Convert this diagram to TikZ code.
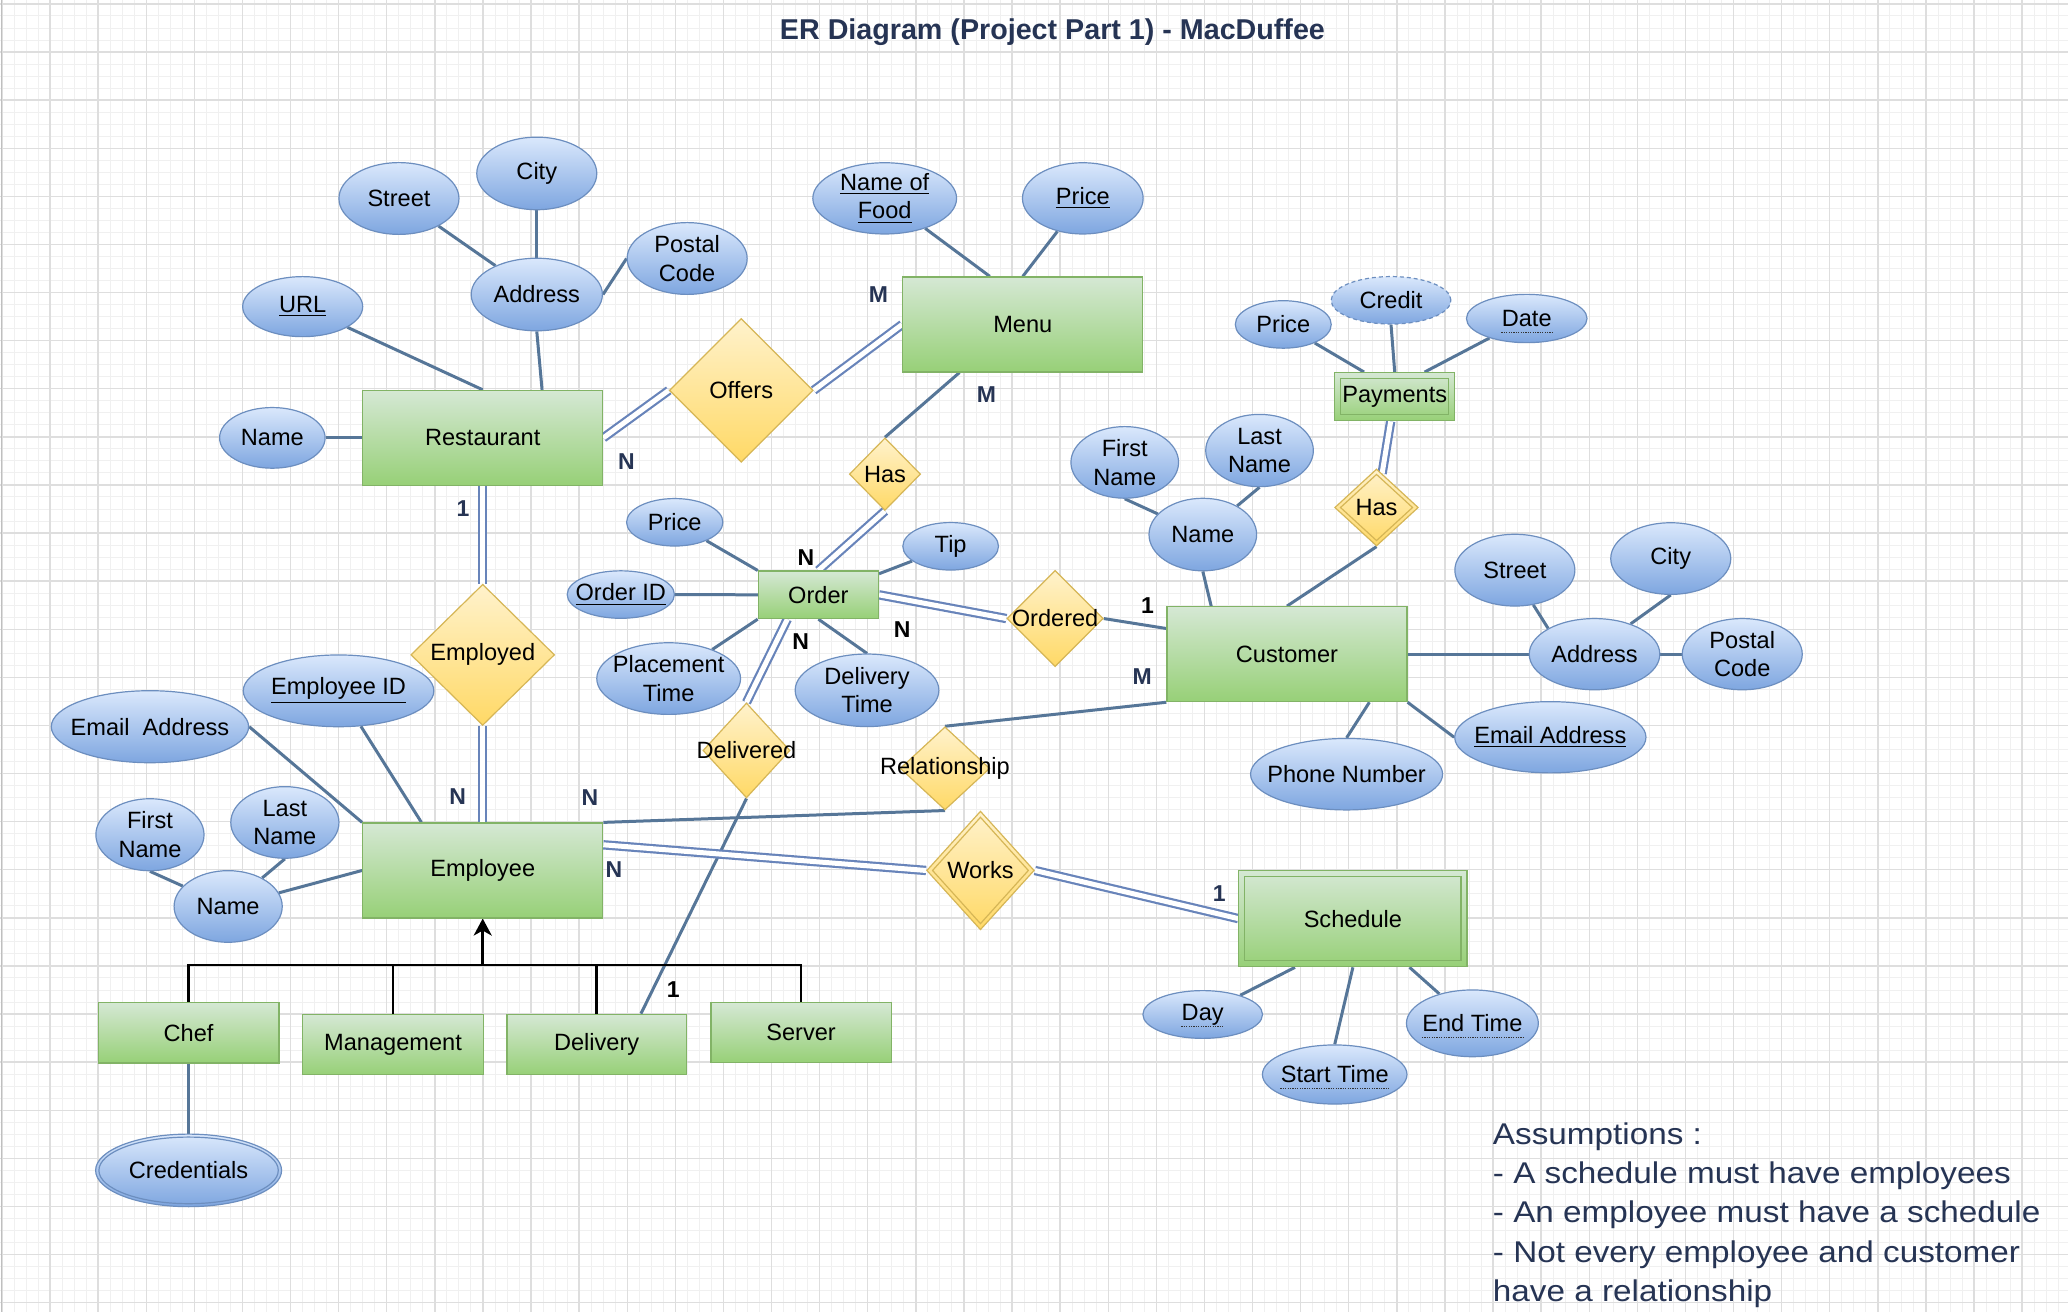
\documentclass[tikz,border=0pt]{standalone}
\usepackage{fontspec}
\setmainfont{Liberation Sans}
\newfontfamily\asfont[FakeStretch=1.11]{Liberation Sans}
\usetikzlibrary{shapes.geometric,arrows.meta,calc}
\definecolor{entTop}{HTML}{D5E8D4}
\definecolor{entBot}{HTML}{97D077}
\definecolor{entBd}{HTML}{82B366}
\definecolor{relTop}{HTML}{FFF2CC}
\definecolor{relBot}{HTML}{FFD966}
\definecolor{relBd}{HTML}{D6B656}
\definecolor{attTop}{HTML}{DAE8FC}
\definecolor{attBot}{HTML}{7EA6E0}
\definecolor{attBd}{HTML}{6C8EBF}
\definecolor{lnCol}{RGB}{86,118,152}
\definecolor{dblCol}{RGB}{104,132,186}
\definecolor{navy}{RGB}{38,52,84}
\pgfdeclarelayer{bg}
\pgfdeclarelayer{lines}
\pgfsetlayers{bg,lines,main}
\begin{document}
\begin{tikzpicture}[x=0.66pt,y=-0.66pt,
  sz/.style 2 args={minimum width=#1*0.66pt, minimum height=#2*0.66pt},
  txt/.style={font=\fontsize{11.8pt}{14.2pt}\selectfont, align=center, inner sep=0pt, text=black},
  ent/.style={rectangle, draw=entBd, line width=0.6pt, top color=entTop, bottom color=entBot, inner sep=0pt},
  entin/.style={rectangle, draw=entBd, line width=0.6pt, inner sep=0pt},
  rel/.style={diamond, draw=relBd, line width=0.6pt, top color=relTop, bottom color=relBot, inner sep=0pt},
  relin/.style={diamond, draw=relBd, line width=0.6pt, inner sep=0pt},
  att/.style={ellipse, draw=attBd, line width=0.6pt, top color=attTop, bottom color=attBot, inner sep=0pt},
  attin/.style={ellipse, draw=attBd, line width=0.6pt, inner sep=0pt},
  ln/.style={draw=lnCol, line width=1.5pt},
  dbl/.style={draw=dblCol, line width=1.1pt, double=white, double distance=2.5pt},
  isal/.style={draw=black, line width=1.4pt},
  card/.style={font=\bfseries\fontsize{11.5pt}{13pt}\selectfont, text=navy, inner sep=0pt},
  cardk/.style={card, text=black},
  dotu/.style={draw=black!80, line width=0.5pt, dash pattern=on 0.6pt off 0.6pt},
  minorgrid/.style={draw=black!6, line width=0.5pt},
  majorgrid/.style={draw=black!13, line width=0.7pt},
  astxt/.style={font=\asfont\fontsize{15pt}{19.7pt}\selectfont, text=navy, inner sep=0pt, anchor=base west}
]
\useasboundingbox (0,0) rectangle (1568,995);
\begin{pgfonlayer}{bg}
  \fill[white] (0,0) rectangle (1568,995);
  \foreach \i in {0,...,172} \draw[minorgrid] ({1.5+9.1175*\i},0) -- ({1.5+9.1175*\i},995);
  \foreach \i in {0,...,109} \draw[minorgrid] (0,{3+9.1175*\i}) -- (1568,{3+9.1175*\i});
  \foreach \i in {0,...,42} \draw[majorgrid] ({1.5+36.47*\i},0) -- ({1.5+36.47*\i},995);
  \foreach \i in {0,...,27} \draw[majorgrid] (0,{3+36.47*\i}) -- (1568,{3+36.47*\i});
  \draw[draw=black!25, line width=0.6pt] (1,0) -- (1,995);
\end{pgfonlayer}

% title
\node[font=\bfseries\fontsize{14.35pt}{17pt}\selectfont, text=navy, anchor=base, inner sep=0pt] (title) at (798,30.3) {ER Diagram (Project Part 1) - MacDuffee};

% entities
\node[ent,sz={182}{72},label={[txt]center:Restaurant}] (rest) at (366,332) {};
\node[ent,sz={182}{72},label={[txt]center:Menu}] (menu) at (775.5,246) {};
\node[ent,sz={91}{36},label={[txt]center:Order}] (order) at (620.5,451) {};
\node[ent,sz={182}{72},label={[txt]center:Customer}] (cust) at (975.8,496) {};
\node[ent,sz={182}{72},label={[txt]center:Employee}] (emp) at (366,660) {};
\node[ent,sz={173}{73}] (sched) at (1025.8,696.5) {};
\node[entin,sz={164}{64},label={[txt]center:Schedule}] (schedin) at (sched) {};
\node[ent,sz={91}{36.5}] (pay) at (1057.5,300.8) {};
\node[entin,sz={82}{27.5},label={[txt]center:Payments}] (payin) at (pay) {};
\node[ent,sz={137}{46},label={[txt]center:Chef}] (chef) at (143,783) {};
\node[ent,sz={137}{46},label={[txt]center:Management}] (mgmt) at (298,792) {};
\node[ent,sz={136}{46},label={[txt]center:Delivery}] (deliv) at (452.4,792) {};
\node[ent,sz={136.5}{45.5},label={[txt]center:Server}] (server) at (607.4,783) {};

% relationships
\node[rel,sz={109}{109},label={[txt]center:Offers}] (offers) at (562,296) {};
\node[rel,sz={54}{55},label={[txt]center:Has}] (hasm) at (671,359.5) {};
\node[rel,sz={109}{107},label={[txt]center:Employed}] (employed) at (366,496.5) {};
\node[rel,sz={66}{72},label={[txt]center:Delivered}] (delivered) at (566,569) {};
\node[rel,sz={73}{73},label={[txt]center:Ordered}] (ordered) at (800,469) {};
\node[rel,sz={63.4}{58.4}] (hasp) at (1043.7,384.8) {};
\node[relin,sz={55}{50.5},label={[txt]center:Has}] (haspin) at (hasp) {};
\node[rel,sz={68}{63},label={[txt]center:Relationship}] (relship) at (716.5,582.6) {};
\node[rel,sz={81.6}{90}] (works) at (743.4,660) {};
\node[relin,sz={73}{81},label={[txt]center:Works}] (worksin) at (works) {};

% attributes: restaurant
\node[att,sz={91}{54.4},label={[txt]center:Street}] (street1) at (302.5,150.5) {};
\node[att,sz={91}{55},label={[txt]center:City}] (city1) at (407,131.5) {};
\node[att,sz={99.5}{55},label={[txt]center:Address}] (addr1) at (407,223.3) {};
\node[att,sz={91}{54.4},label={[txt]center:Postal\\Code}] (postal1) at (521,196) {};
\node[att,sz={91}{45.5},label={[txt]center:\underline{URL}}] (url) at (229.5,232.5) {};
\node[att,sz={80}{46},label={[txt]center:Name}] (rname) at (206.5,332) {};
% menu
\node[att,sz={109}{54},label={[txt]center:\underline{Name of}\\\underline{Food}}] (foodname) at (670.8,150.4) {};
\node[att,sz={91.5}{54},label={[txt]center:\underline{Price}}] (mprice) at (821,150.4) {};
% order
\node[att,sz={73}{36},label={[txt]center:Price}] (oprice) at (511.6,396) {};
\node[att,sz={72.5}{36},label={[txt]center:Tip}] (tip) at (720.8,414.2) {};
\node[att,sz={81.3}{36},label={[txt]center:\underline{Order ID}}] (orderid) at (470.7,450.8) {};
\node[att,sz={109}{54.3},label={[txt]center:Placement\\Time}] (ptime) at (507,514.5) {};
\node[att,sz={109}{55},label={[txt]center:Delivery\\Time}] (dtime) at (657.4,523.4) {};
% customer
\node[att,sz={81.6}{55},label={[txt]center:Name}] (cname) at (912,405.3) {};
\node[att,sz={81.6}{54.3},label={[txt]center:First\\Name}] (cfirst) at (852.8,350.6) {};
\node[att,sz={81.6}{54.8},label={[txt]center:Last\\Name}] (clast) at (955,341.6) {};
\node[att,sz={91}{54.4},label={[txt]center:Street}] (cstreet) at (1148.6,432.3) {};
\node[att,sz={91}{54.3},label={[txt]center:City}] (ccity) at (1266.8,423.5) {};
\node[att,sz={99}{54},label={[txt]center:Address}] (caddr) at (1209,496) {};
\node[att,sz={91}{54},label={[txt]center:Postal\\Code}] (cpostal) at (1321,496) {};
\node[att,sz={145}{54},label={[txt]center:\underline{Email Address}}] (cemail) at (1175.5,559) {};
\node[att,sz={145.6}{54.2},label={[txt]center:Phone Number}] (phone) at (1021,587) {};
% payments
\node[att,sz={72.7}{36},label={[txt]center:Price}] (pprice) at (973,246) {};
\node[att,sz={90.8}{36},dash pattern=on 2pt off 1.5pt,label={[txt]center:Credit}] (credit) at (1054.7,227.7) {};
\node[att,sz={91.4}{36.6},label={[txt,name=datel]center:Date}] (date) at (1157.6,241.5) {};
% employee
\node[att,sz={144.5}{54.4},label={[txt]center:\underline{Employee ID}}] (empid) at (256.7,523.8) {};
\node[att,sz={149.6}{54.6},label={[txt]center:Email~\ Address}] (eemail) at (113.7,551) {};
\node[att,sz={82}{54.3},label={[txt]center:Last\\Name}] (elast) at (216,623.6) {};
\node[att,sz={82}{54.6},label={[txt]center:First\\Name}] (efirst) at (113.7,632.9) {};
\node[att,sz={82}{54.3},label={[txt]center:Name}] (ename) at (173,687.3) {};
\node[att,sz={141}{55}] (cred) at (143,887.4) {};
\node[attin,sz={136}{50.5},label={[txt]center:Credentials}] (credin) at (cred) {};
% schedule
\node[att,sz={90.7}{36.2},label={[txt,name=dayl]center:Day}] (day) at (911.9,769.2) {};
\node[att,sz={109.6}{44.8},label={[txt,name=stimel]center:Start Time}] (stime) at (1012,814.7) {};
\node[att,sz={100}{50.6},label={[txt,name=etimel]center:End Time}] (etime) at (1116.4,775.9) {};

% dotted underlines (partial keys)
\draw[dotu] ([yshift=-3pt]datel.base west) -- ([yshift=-3pt]datel.base east);
\draw[dotu] ([yshift=-3pt]dayl.base west) -- ([yshift=-3pt]dayl.base east);
\draw[dotu] ([yshift=-3pt]stimel.base west) -- ([yshift=-3pt]stimel.base east);
\draw[dotu] ([yshift=-3pt]etimel.base west) -- ([yshift=-3pt]etimel.base east);

% connectors
\begin{pgfonlayer}{lines}
  \draw[ln] (street1) -- (addr1);
  \draw[ln] (city1.south) -- (addr1.north);
  \draw[ln] (addr1.east) -- (postal1.west);
  \draw[ln] (url) -- (rest.north);
  \draw[ln] (addr1.south) -- ($(rest.north)+(45,0)$);
  \draw[ln] (rname.east) -- (rest.west);
  \draw[ln] (foodname) -- ($(menu.north)+(-25,0)$);
  \draw[ln] (mprice) -- (menu.north);
  \draw[ln] ($(menu.south)+(-48,0)$) -- (hasm.north);
  \draw[ln] (oprice) -- (order.north west);
  \draw[ln] (tip) -- ($(order.north east)+(0,2.5)$);
  \draw[ln] (orderid.east) -- (order.west);
  \draw[ln] (ptime) -- (order.south west);
  \draw[ln] (order.south) -- (dtime.north);
  \draw[ln] (delivered.south) -- ($(deliv.north)+(33.6,0)$);
  \draw[ln] (ordered.east) -- ($(cust.north west)+(0,17)$);
  \draw[ln] (cfirst.south) -- (cname);
  \draw[ln] (clast.south) -- (cname);
  \draw[ln] (cname.south) -- ($(cust.north west)+(34,0)$);
  \draw[ln] (hasp.south) -- (cust.north);
  \draw[ln] (pprice) -- ($(pay.north west)+(22.7,0)$);
  \draw[ln] (credit.south) -- (pay.north);
  \draw[ln] (date) -- ($(pay.north east)+(-23.3,0)$);
  \draw[ln] (cstreet.-62) -- (caddr.151);
  \draw[ln] (ccity.south) -- (caddr.40);
  \draw[ln] (caddr.west) -- (cust.east);
  \draw[ln] (caddr.east) -- (cpostal.west);
  \draw[ln] (cust.south east) -- (cemail.west);
  \draw[ln] (phone.north) -- ($(cust.south)+(62.5,0)$);
  \draw[ln] (relship.north) -- (cust.south west);
  \draw[ln] (relship.south) -- (emp.north east);
  \draw[ln] (eemail.east) -- (emp.north west);
  \draw[ln] (empid) -- ($(emp.north west)+(45,0)$);
  \draw[ln] (efirst.south) -- (ename);
  \draw[ln] (elast.south) -- (ename);
  \draw[ln] (ename) -- (emp.west);
  \draw[ln] (chef.south) -- (cred.north);
  \draw[ln] (day) -- ($(sched.south west)+(43,0)$);
  \draw[ln] (stime.north) -- (sched.south);
  \draw[ln] (etime) -- ($(sched.south east)+(-44,0)$);
  % double (total participation)
  \draw[dbl] (rest.south) -- (employed.north);
  \draw[dbl] (employed.south) -- (emp.north);
  \draw[dbl] (rest.east) -- (offers.west);
  \draw[dbl] (offers.east) -- (menu.west);
  \draw[dbl] (hasm.south) -- (order.north);
  \draw[dbl] (order.east) -- (ordered.west);
  \draw[dbl] ($(order.south)+(-23.5,0)$) -- (delivered.north);
  \draw[dbl] (pay) -- (hasp);
  \draw[dbl] ($(emp.north east)+(0,17)$) -- (works.west);
  \draw[dbl] (works.east) -- (sched.west);
  % specialization
  \coordinate (isa) at (366,731.7);
  \draw[isal,line join=miter] (chef.north) -- (chef.north |- isa) -- (server.north |- isa) -- (server.north);
  \draw[isal] (mgmt.north) -- (mgmt.north |- isa);
  \draw[isal] (deliv.north) -- (deliv.north |- isa);
  \draw[isal,-{Stealth[length=8.5pt,width=9pt,inset=2.5pt]}] (isa) -- (emp.south);
\end{pgfonlayer}

% cardinalities
\node[card] (k1) at (475,350) {N};
\node[card] (k2) at (666,223.7) {M};
\node[card] (k3) at (748,299) {M};
\node[cardk] (k4) at (611,423) {N};
\node[card] (k5) at (351,386) {1};
\node[cardk] (k6) at (607,486.5) {N};
\node[cardk] (k7) at (684,477.7) {N};
\node[cardk] (k8) at (870,459.5) {1};
\node[card] (k9) at (866,513) {M};
\node[card] (k10) at (347,604) {N};
\node[card] (k11) at (447.3,604.5) {N};
\node[card] (k12) at (465.5,659.6) {N};
\node[cardk] (k13) at (510.5,750.6) {1};
\node[card] (k14) at (924.5,677.3) {1};

% assumptions
\node[astxt] (as1) at (1131.7,867.4) {Assumptions :};
\node[astxt] (as2) at (1131.7,897.3) {- A schedule must have employees};
\node[astxt] (as3) at (1131.7,927.2) {- An employee must have a schedule};
\node[astxt] (as4) at (1131.7,957.1) {- Not every employee and customer};
\node[astxt] (as5) at (1131.7,987.0) {have a relationship};
\end{tikzpicture}
\end{document}
